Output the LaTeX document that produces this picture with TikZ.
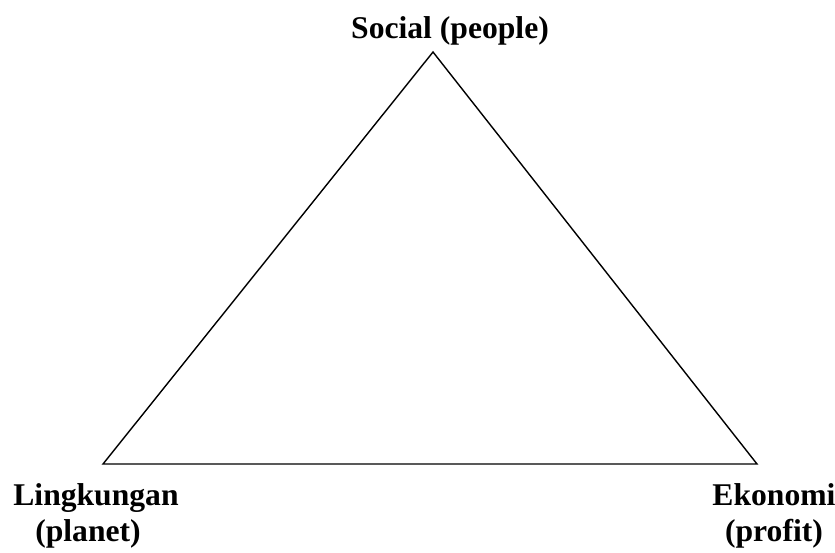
\documentclass[tikz,border=0pt]{standalone}
\usepackage{fontspec}
\setmainfont{Liberation Serif}
\usetikzlibrary{positioning}

\begin{document}
\begin{tikzpicture}[
    x=0.02cm, y=-0.02cm,
    side/.style={draw=black, line width=0.8pt},
    pillar/.style={
        inner sep=0pt, align=center,
        font=\fontsize{18}{20}\selectfont\bfseries
    }
]
    % canvas
    \useasboundingbox (0,0) rectangle (835,552);

    % Corners of the triangle
    \coordinate (people) at (433,52);
    \coordinate (planet) at (103,464);
    \coordinate (profit) at (757,464);

    % Triangle
    \draw [side] (people) -- (planet) -- (profit) -- cycle;

    % Labels
    \node [pillar, anchor=base] (social) at (450,38) {Social (people)};
    \node [pillar, anchor=base] (lingkungan) at (96,541) {Lingkungan\\(planet)\hspace*{0.32cm}};
    \node [pillar, anchor=base] (ekonomi) at (774,541) {Ekonomi\\(profit)};

\end{tikzpicture}
\end{document}
